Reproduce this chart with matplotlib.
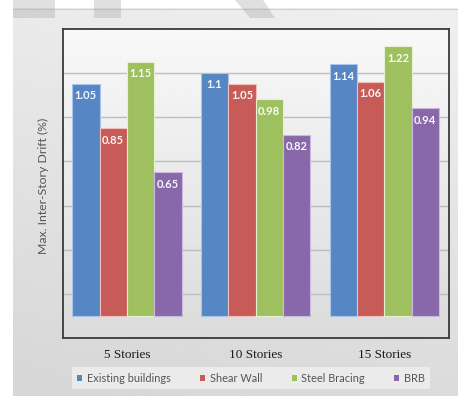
import numpy as np
import matplotlib
matplotlib.use("Agg")
import matplotlib.pyplot as plt
from matplotlib.patches import Patch, Rectangle, Polygon

# Data
categories = ["5 Stories", "10 Stories", "15 Stories"]
series_names = ["Existing buildings", "Shear Wall", "Steel Bracing", "BRB"]
existing = [1.05, 1.10, 1.14]
shear_wall = [0.85, 1.05, 1.06]
steel_bracing = [1.15, 0.98, 1.22]
brb = [0.65, 0.82, 0.94]
series_values = [existing, shear_wall, steel_bracing, brb]
label_text = [["1.05", "1.1", "1.14"], ["0.85", "1.05", "1.06"],
              ["1.15", "0.98", "1.22"], ["0.65", "0.82", "0.94"]]

colors = ["#5686c4", "#c65b58", "#9fc05f", "#8868a9"]
edges = ["#a9c6ea", "#f0c0bc", "#e6f2cf", "#c9b8e0"]

W, H = 458, 396
fig = plt.figure(figsize=(W / 100, H / 100), dpi=100)
fig.patch.set_facecolor("white")

# Outer grey panel with a soft gradient
bg = fig.add_axes([0, 0, 1, 1], zorder=-10)
bg.set_xlim(0, W)
bg.set_ylim(H, 0)
bg.axis("off")
yy, xx = np.mgrid[0:1:200j, 0:1:200j]
panel = 0.94 - 0.08 * yy - 0.02 * (1 - xx)
bg.imshow(panel, cmap="gray", vmin=0, vmax=1, extent=[13, W, H, 8],
          aspect="auto", interpolation="bicubic", zorder=0)
bg.plot([13, W], [8.5, 8.5], color="#cfcfcf", lw=0.8, zorder=1)

# Plot area
ax = fig.add_axes([62.5 / W, 1 - 338.3 / H, (448.7 - 62.5) / W, (338.3 - 28.5) / H])
ax.set_xlim(-0.5, 2.5)
ax.set_ylim(-0.1, 1.3)
grad = np.linspace(0.975, 0.86, 200).reshape(-1, 1)
ax.imshow(grad, cmap="gray", vmin=0, vmax=1, extent=[-0.5, 2.5, -0.1, 1.3],
          aspect="auto", interpolation="bicubic", zorder=0)

for g in [0.1, 0.3, 0.5, 0.7, 0.9, 1.1]:
    ax.axhline(g, color="#bdbdbd", lw=1.0, zorder=1)

x = np.arange(len(categories))
bw = 0.2125
for i, vals in enumerate(series_values):
    pos = x + (i - 1.5) * bw
    bars = ax.bar(pos, vals, width=bw, color=colors[i], edgecolor=edges[i],
                  linewidth=0.8, zorder=2)
    for b, txt in zip(bars, label_text[i]):
        ax.text(b.get_x() + b.get_width() / 2, b.get_height() - 0.055, txt,
                ha="center", va="center", color="white", fontsize=8,
                fontweight="bold", family="Lato", alpha=0.95, zorder=3)

for s in ax.spines.values():
    s.set_color("#3a3a3a")
    s.set_linewidth(1.3)

ax.set_yticks([])
ax.set_xticks(x)
ax.set_xticklabels(categories, family="Liberation Serif", fontsize=9.5,
                   color="#1a1a1a")
ax.tick_params(axis="x", length=0, pad=8)

fig.text(43 / W, 1 - 186 / H, "Max. Inter-Story Drift (%)", rotation=90,
         ha="center", va="center", fontsize=8.8, color="#555555", family="Lato")

handles = [Patch(facecolor=c, edgecolor="none") for c in colors]
leg = fig.legend(handles, series_names, loc="center",
                 bbox_to_anchor=(251 / W, 1 - 378 / H), ncol=4, frameon=True,
                 fancybox=False, handlelength=0.45, handleheight=0.45,
                 handletextpad=0.4, columnspacing=2.7, borderpad=0.5,
                 prop={"family": "Lato", "size": 7.9})
leg.get_frame().set_facecolor("#ebebeb")
leg.get_frame().set_edgecolor("none")
leg.get_frame().set_alpha(1)
for t in leg.get_texts():
    t.set_color("#555555")

# Grey marks along the top edge
top = fig.add_axes([0, 0, 1, 1], zorder=20)
top.set_xlim(0, W)
top.set_ylim(H, 0)
top.axis("off")
top.add_patch(Rectangle((13, 0), 42, 18, color="#9a9a9a", alpha=0.3, lw=0))
top.add_patch(Rectangle((94, 0), 27, 18, color="#9a9a9a", alpha=0.3, lw=0))
top.add_patch(Polygon([(235, 0), (263, 0), (275, 18), (250, 18)],
                      closed=True, color="#9a9a9a", alpha=0.3, lw=0))

fig.savefig("out.png", dpi=100)
